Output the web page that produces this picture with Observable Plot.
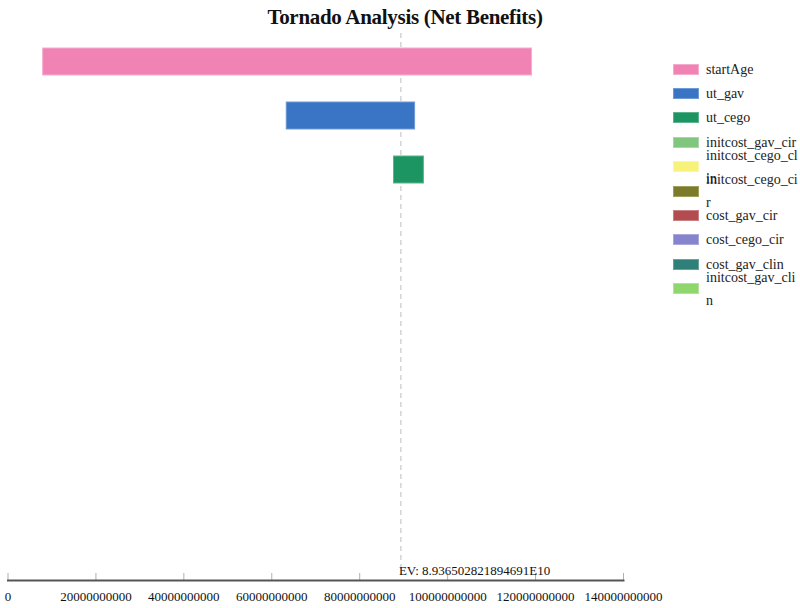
<!DOCTYPE html>
<html>
<head>
<meta charset="utf-8">
<script src="https://cdn.jsdelivr.net/npm/d3@7"></script>
<script src="https://cdn.jsdelivr.net/npm/@observablehq/plot@0.6"></script>
<style>
  html, body { margin: 0; padding: 0; background: #fff; }
  #wrap { position: relative; width: 800px; height: 608px; overflow: hidden; font-family: "Liberation Serif", serif; }
  #title { position: absolute; left: 0; top: 5px; width: 810px; text-align: center; font-size: 21px; font-weight: bold; color: #111; letter-spacing: -0.3px; }
  #chart { position: absolute; left: 0; top: 32px; }
  #legend { position: absolute; left: 673px; top: 57px; width: 127px; }
  .row { display: flex; align-items: center; height: 24.4px; overflow: visible; }
  .sw { width: 26px; height: 11px; flex: none; margin-right: 7px; }
  .lab { width: 94px; flex: none; font-size: 14px; line-height: 23px; word-break: break-all; color: #222; }
</style>
</head>
<body>
<div id="wrap">
  <div id="title">Tornado Analysis (Net Benefits)</div>
  <div id="chart"></div>
  <div id="legend"></div>
</div>
<script>
const categories = ["startAge","ut_gav","ut_cego","initcost_gav_cir","initcost_cego_clin","initcost_cego_cir","cost_gav_cir","cost_cego_cir","cost_gav_clin","initcost_gav_clin"];
const expectedValue = 8.936502821894691E10;
const expectedValueLabel = "EV: 8.936502821894691E10";
const lowValues  = [8.0e9, 63.4e9, 87.8e9, 8.936502821894691E10, 8.936502821894691E10, 8.936502821894691E10, 8.936502821894691E10, 8.936502821894691E10, 8.936502821894691E10, 8.936502821894691E10];
const highValues = [119.2e9, 92.6e9, 94.6e9, 8.936502821894691E10, 8.936502821894691E10, 8.936502821894691E10, 8.936502821894691E10, 8.936502821894691E10, 8.936502821894691E10, 8.936502821894691E10];
const colors = ["#f083b4","#3a74c4","#1c9562","#80c67f","#f6f27a","#7b7b2b","#b24c4e","#8584cc","#2f8079","#8fd66c"];
const strokes = ["#f6acce","#6e9ad6","#5bb48c","#a6d8a5","#f9f6a6","#a0a05e","#c98082","#a9a8dc","#68a29d","#b2e398"];
const xTicks = [0, 20000000000, 40000000000, 60000000000, 80000000000, 100000000000, 120000000000, 140000000000];

const rows = categories.map((c, i) => ({cat: c, low: lowValues[i], high: highValues[i], fill: colors[i], stroke: strokes[i]}))
  .filter(d => d.low !== d.high);

const chart = Plot.plot({
  width: 800,
  height: 576,
  marginLeft: 7.5,
  marginRight: 177,
  marginTop: 0,
  marginBottom: 28,
  style: {fontFamily: "Liberation Serif, serif", fontSize: "13px", color: "#111", background: "transparent"},
  x: {domain: [0, 140000000000], ticks: xTicks, tickFormat: d => String(d), label: null},
  y: {domain: categories, range: [2.5, 542.5], paddingInner: 0.5, paddingOuter: 0.25, axis: null},
  marks: [
    Plot.ruleX([expectedValue], {stroke: "#bdbdbd", strokeWidth: 1, strokeDasharray: "5,4", insetTop: 1, insetBottom: 5}),
    Plot.barX(rows, {x1: "low", x2: "high", y: "cat", fill: d => d.fill, stroke: d => d.stroke, strokeWidth: 1}),
    Plot.ruleX(xTicks, {x: d => d, stroke: "#b0b0b0", strokeWidth: 1, insetTop: 541, insetBottom: 0}),
    Plot.frame({anchor: "bottom", stroke: "#555", strokeWidth: 2}),
    Plot.axisX({ticks: xTicks, tickFormat: d => String(d), tickSize: 0, tickPadding: 11, label: null, fill: "#111"}),
    Plot.text([expectedValue], {x: d => d, frameAnchor: "bottom", text: () => expectedValueLabel, textAnchor: "start", lineAnchor: "middle", dx: -2, dy: -10, fill: "#111", fontSize: 13})
  ]
});
document.getElementById("chart").appendChild(chart);

const legend = document.getElementById("legend");
categories.forEach((c, i) => {
  const row = document.createElement("div");
  row.className = "row";
  const sw = document.createElement("div");
  sw.className = "sw";
  sw.style.background = colors[i];
  sw.style.border = "1px solid " + strokes[i];
  sw.style.boxSizing = "border-box";
  const lab = document.createElement("div");
  lab.className = "lab";
  lab.textContent = c;
  row.appendChild(sw);
  row.appendChild(lab);
  legend.appendChild(row);
});
</script>
</body>
</html>
